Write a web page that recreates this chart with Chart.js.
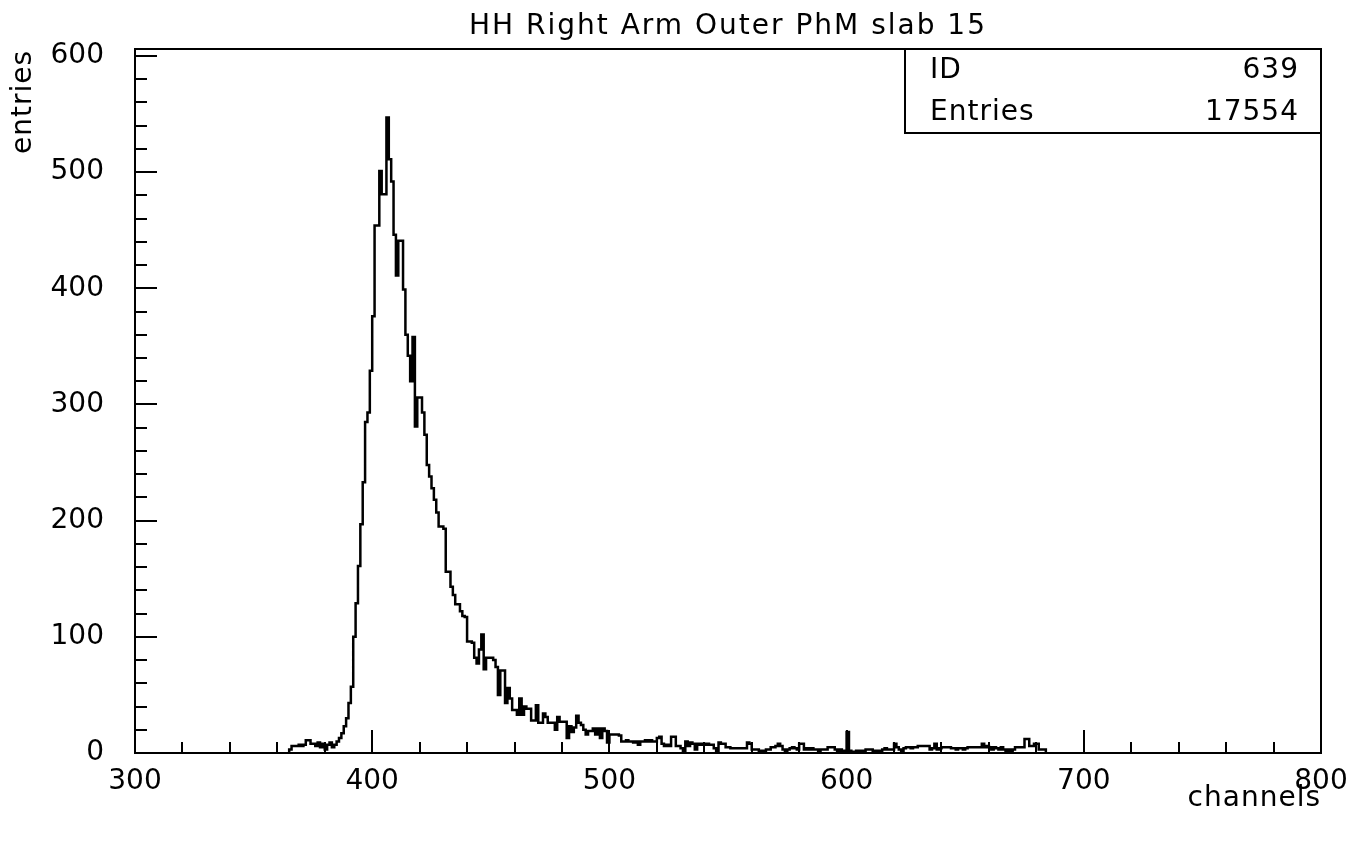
<!DOCTYPE html>
<html><head><meta charset="utf-8">
<script src="https://cdn.jsdelivr.net/npm/chart.js@4.4.1/dist/chart.umd.min.js"></script>
<style>html,body{margin:0;padding:0;background:#fff;}canvas{display:block;}</style>
</head><body>
<canvas id="c" width="1363" height="843"></canvas>
<script>
// ---- data ----
const chartTitle = "HH Right Arm Outer PhM slab 15";
const xAxisTitle = "channels";
const yAxisTitle = "entries";
const statsLabels = ["ID", "Entries"];
const statsValues = ["639", "17554"];
const firstChannel = 365;   // left edge of first filled bin
const binWidth = 1;
const counts = [
  3, 6, 6, 6, 7, 6, 7, 11, 11, 8,
  8, 6, 9, 5, 8, 3, 7, 9, 5, 7,
  10, 13, 17, 23, 30, 43, 57, 100, 129, 161,
  197, 233, 285, 293, 329, 376, 454, 454, 501, 481,
  481, 547, 511, 492, 446, 411, 441, 441, 399, 360,
  342, 320, 358, 281, 306, 306, 293, 274, 248, 238,
  228, 218, 207, 195, 195, 193, 156, 156, 143, 136,
  128, 128, 122, 118, 117, 96, 96, 95, 82, 77,
  89, 102, 72, 82, 82, 82, 80, 74, 50, 71,
  71, 43, 56, 47, 37, 37, 33, 47, 33, 40,
  38, 38, 28, 28, 41, 26, 26, 34, 31, 26,
  26, 26, 20, 31, 27, 27, 27, 13, 23, 18,
  22, 32, 26, 24, 20, 16, 19, 19, 21, 16,
  21, 13, 21, 19, 9, 16, 16, 16, 16, 15,
  10, 10, 11, 10, 10, 9, 10, 7, 10, 10,
  11, 10, 11, 10, 10, 13, 14, 8, 6, 7,
  6, 14, 14, 6, 6, 4, 1, 10, 6, 9,
  8, 3, 8, 7, 8, 7, 8, 7, 7, 4,
  1, 9, 8, 8, 5, 5, 4, 4, 4, 4,
  4, 4, 4, 9, 8, 3, 3, 3, 1, 2,
  2, 3, 3, 5, 5, 6, 8, 6, 3, 2,
  3, 4, 5, 4, 3, 8, 8, 3, 4, 3,
  4, 3, 3, 2, 3, 3, 3, 5, 5, 5,
  3, 2, 3, 2, 2, 18, 2, 1, 1, 2,
  2, 2, 2, 3, 3, 3, 2, 2, 2, 2,
  3, 4, 3, 3, 3, 8, 5, 3, 2, 4,
  5, 5, 4, 5, 5, 6, 6, 6, 6, 6,
  3, 4, 8, 3, 4, 5, 5, 5, 5, 4,
  4, 3, 4, 4, 3, 4, 5, 5, 5, 5,
  5, 5, 8, 5, 6, 5, 3, 5, 4, 3,
  5, 3, 2, 3, 2, 3, 5, 5, 5, 5,
  12, 12, 6, 6, 8, 8, 3, 3, 3
];
const xRange = [300, 800];
const yRange = [0, 606];
const xTickValues = [300, 400, 500, 600, 700, 800];
const yTickValues = [0, 100, 200, 300, 400, 500, 600];
const minorStep = 20;

// ---- build histogram outline (step line) ----
const points = [{x: firstChannel, y: 0}];
counts.forEach((v, i) => points.push({x: firstChannel + i * binWidth, y: v}));
points.push({x: firstChannel + counts.length * binWidth, y: 0});

const FONT = '"DejaVu Sans", "Liberation Sans", sans-serif';
const FSIZE = 28;

const decor = {
  id: 'decor',
  afterDraw(chart) {
    const ctx = chart.ctx, a = chart.chartArea;
    const xs = chart.scales.x, ys = chart.scales.y;
    ctx.save();
    ctx.strokeStyle = '#000';
    ctx.fillStyle = '#000';
    ctx.lineWidth = 2;
    // frame
    ctx.strokeRect(a.left, a.top, a.right - a.left, a.bottom - a.top);
    // inward ticks
    ctx.beginPath();
    for (let v = xRange[0]; v <= xRange[1]; v += minorStep) {
      const x = Math.round(xs.getPixelForValue(v));
      const len = xTickValues.includes(v) ? 23 : 11;
      ctx.moveTo(x, a.bottom); ctx.lineTo(x, a.bottom - len);
    }
    for (let v = 0; v <= 600; v += minorStep) {
      const y = Math.round(ys.getPixelForValue(v));
      const len = yTickValues.includes(v) ? 22 : 12;
      ctx.moveTo(a.left, y); ctx.lineTo(a.left + len, y);
    }
    ctx.stroke();
    // text
    ctx.font = `${FSIZE}px ${FONT}`;
    ctx.letterSpacing = '2px';
    ctx.textBaseline = 'middle';
    ctx.textAlign = 'center';
    ctx.fillText(chartTitle, (a.left + a.right) / 2, 27);
    ctx.letterSpacing = '1px';
    // stats box
    const bx = 905, by = a.top, bw = a.right - 905, bh = 133 - a.top;
    ctx.fillStyle = '#fff';
    ctx.fillRect(bx, by, bw, bh);
    ctx.fillStyle = '#000';
    ctx.strokeRect(bx, by, bw, bh);
    ctx.textAlign = 'left';
    ctx.fillText(statsLabels[0], 930, 71);
    ctx.fillText(statsLabels[1], 930, 113);
    ctx.textAlign = 'right';
    ctx.fillText(statsValues[0], 1299, 71);
    ctx.fillText(statsValues[1], 1299, 113);
    // x axis title
    ctx.textAlign = 'right';
    ctx.fillText(xAxisTitle, a.right, 799);
    // y axis title
    ctx.save();
    ctx.translate(24, 50);
    ctx.rotate(-Math.PI / 2);
    ctx.textAlign = 'right';
    ctx.fillText(yAxisTitle, 0, 0);
    ctx.restore();
    ctx.restore();
  }
};

new Chart(document.getElementById('c'), {
  type: 'line',
  data: {
    datasets: [{
      data: points,
      borderColor: '#000',
      borderWidth: 2.5,
      pointRadius: 0,
      stepped: true,
      fill: false,
      tension: 0
    }]
  },
  options: {
    responsive: false,
    animation: false,
    layout: {padding: {top: 49, right: 42, left: 0, bottom: 0}},
    plugins: {legend: {display: false}, tooltip: {enabled: false}, title: {display: false}},
    scales: {
      x: {
        type: 'linear', min: xRange[0], max: xRange[1],
        afterFit(s) { s.height = 90; },
        afterBuildTicks(s) { s.ticks = xTickValues.map(v => ({value: v})); },
        grid: {display: false, drawTicks: false},
        border: {display: false},
        ticks: {color: '#000', font: {family: FONT, size: FSIZE}, padding: 12, maxRotation: 0, autoSkip: false}
      },
      y: {
        type: 'linear', min: yRange[0], max: yRange[1],
        afterFit(s) { s.width = 135; },
        afterBuildTicks(s) { s.ticks = yTickValues.map(v => ({value: v})); },
        grid: {display: false, drawTicks: false},
        border: {display: false},
        ticks: {color: '#000', font: {family: FONT, size: FSIZE}, padding: 31, autoSkip: false}
      }
    }
  },
  plugins: [decor]
});
</script>
</body></html>
